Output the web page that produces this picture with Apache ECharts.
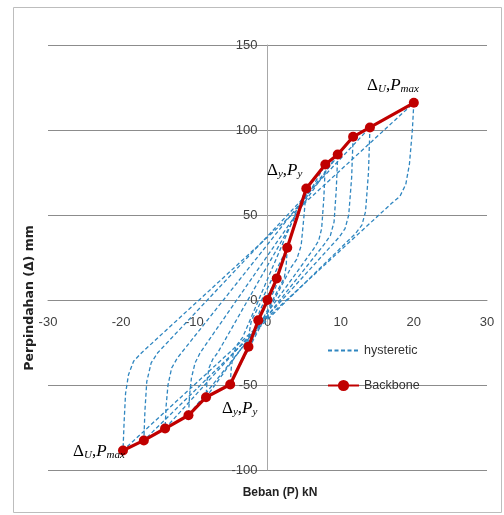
<!DOCTYPE html>
<html><head><meta charset="utf-8">
<script src="https://cdn.jsdelivr.net/npm/echarts@6/dist/echarts.min.js"></script>
<style>html,body{margin:0;padding:0;background:#fff}#c{width:504px;height:515px}</style>
</head><body><div id="c"></div>
<script>
// Axis ranges / ticks
const xRange = [-30, 30, 10];
const yRange = [-100, 150, 50];

// Backbone curve (Beban P kN, Perpindahan mm)
const backbone = [
  [-19.75,-88.5],[-16.9,-82.6],[-14,-75.6],[-10.8,-67.8],[-8.4,-57.2],[-5.1,-49.7],
  [-2.6,-27.5],[-1.26,-11.9],[0,0],[1.26,12.6],[2.7,30.7],[5.3,65.6],[7.9,79.7],
  [9.6,85.6],[11.7,96],[14,101.5],[20,116]
];

// Hysteretic loops
const hyst1 = [[1.26,12.6],[1.15,8],[0.8,4.5],[-1.26,-11.9],[-1.15,-7.5],[-0.8,-4],[1.26,12.6]];
const hyst2 = [[2.7,30.7],[2.55,20],[2.3,13],[1.8,9],[-2.6,-27.5],[-2.45,-18],[-2.2,-12],[-1.7,-8],[2.7,30.7]];
const hyst3 = [[5.3,65.6],[5.0,50],[4.6,32],[4.0,24],[3.2,19],[-5.1,-49.7],[-4.95,-40],[-4.7,-32],[-4.1,-26],[-3.4,-22],[5.3,65.6]];
const hyst4 = [[7.9,79.7],[7.7,60],[7.4,42],[7.0,35],[6.3,30],[-8.4,-57.2],[-8.25,-47],[-8.0,-40],[-7.5,-35],[-6.8,-31],[7.9,79.7]];
const hyst5 = [[9.6,85.6],[9.4,65],[9.1,46],[8.6,38],[7.8,33],[-10.8,-67.8],[-10.65,-56],[-10.4,-46],[-9.9,-37],[-9.2,-31],[9.6,85.6]];
const hyst6 = [[11.7,96],[11.5,72],[11.1,50],[10.6,42],[9.8,37],[-14,-75.6],[-13.85,-62],[-13.6,-50],[-13.1,-40],[-12.3,-34],[11.7,96]];
const hyst7 = [[14,101.5],[13.8,75],[13.4,52],[12.9,44],[12.0,39],[-16.9,-82.6],[-16.75,-65],[-16.5,-48],[-15.9,-37],[-15,-31],[14,101.5]];
const hyst8 = [[20,116],[19.8,100],[19.4,80],[18.9,68],[18.1,61],[17,57],[-19.75,-88.5],[-19.6,-72],[-19.4,-55],[-19.0,-44],[-18.3,-36],[-17.2,-31],[20,116]];
const hystLoops = [hyst1,hyst2,hyst3,hyst4,hyst5,hyst6,hyst7,hyst8];

const seriesNames = ['hysteretic','Backbone'];
const xTitle = 'Beban (P) kN';
const yTitle = 'Perpindahan (Δ) mm';

const FONT = "'Liberation Sans Narrow','Liberation Sans',sans-serif";
const blue = '#2f86c0';
const red = '#c00000';
const G = {left: 48, right: 17, top: 45, bottom: 45, W: 504, H: 515};

const chart = echarts.init(document.getElementById('c'));
const series = hystLoops.map(d => ({
  name: seriesNames[0], type: 'line', data: d, symbol: 'none', silent: true,
  lineStyle: {color: blue, width: 1.3, type: [4, 2.5]}, itemStyle: {color: blue}, z: 2
}));
series.push({
  name: seriesNames[1], type: 'line', data: backbone, symbol: 'circle', symbolSize: 10,
  lineStyle: {color: red, width: 3.2}, itemStyle: {color: red}, z: 5
});

const mathRich = {
  d: {fontSize: 17, fontFamily: 'Liberation Serif', color: '#111', lineHeight: 16, verticalAlign: 'top'},
  m: {fontSize: 17, fontFamily: 'Liberation Serif', fontStyle: 'italic', color: '#111', lineHeight: 16, verticalAlign: 'top'},
  c: {fontSize: 17, fontFamily: 'Liberation Serif', color: '#111', lineHeight: 18, verticalAlign: 'top'},
  s: {fontSize: 11, fontFamily: 'Liberation Serif', fontStyle: 'italic', color: '#111', lineHeight: 10, verticalAlign: 'bottom'}
};
const labU = '{d|Δ}{s|U}{c|,}{m|P}{s|max}';
const labY = '{d|Δ}{s|y}{c|,}{m|P}{s|y}';
function ann(text, x, y) {
  return {type: 'text', left: x, top: y, z: 20, style: {text: text, rich: mathRich}};
}

chart.setOption({
  animation: false,
  grid: {left: G.left, right: G.right, top: G.top, bottom: G.bottom},
  legend: {
    orient: 'vertical', left: 327, top: 344, padding: 0, itemWidth: 31, itemHeight: 14, itemGap: 22,
    data: [{name: seriesNames[0], itemStyle: {opacity: 0}}, {name: seriesNames[1]}],
    textStyle: {fontFamily: FONT, fontSize: 12.5, color: '#333'}
  },
  xAxis: {
    type: 'value', min: xRange[0], max: xRange[1], interval: xRange[2],
    splitLine: {show: false}, axisTick: {show: false},
    axisLine: {onZero: false, lineStyle: {color: '#8c8c8c'}},
    axisLabel: {fontFamily: FONT, fontSize: 13, color: '#404040', margin: 16}
  },
  yAxis: {
    type: 'value', min: yRange[0], max: yRange[1], interval: yRange[2],
    splitLine: {lineStyle: {color: '#8c8c8c'}}, axisTick: {show: false},
    axisLine: {show: true, onZero: false, lineStyle: {color: '#a8a8a8'}},
    axisLabel: {fontFamily: FONT, fontSize: 13, color: '#404040', margin: 10}
  },
  graphic: [
    {type: 'rect', shape: {x: 13.5, y: 7.5, width: 488, height: 505}, style: {fill: 'none', stroke: '#bdbdbd', lineWidth: 1}, z: -1, silent: true},
    {type: 'text', x: 30, y: 298, rotation: Math.PI / 2, z: 10,
      style: {text: yTitle, fontFamily: "'DejaVu Sans',sans-serif", fontWeight: 'bold', fontSize: 12.5, fill: '#222', align: 'center', verticalAlign: 'middle'}},
    {type: 'text', x: 280, y: 493, z: 10,
      style: {text: xTitle, fontFamily: FONT, fontWeight: 'bold', fontSize: 12, fill: '#222', align: 'center', verticalAlign: 'middle'}},
    ann(labU, 367, 77),
    ann(labY, 267, 162),
    ann(labY, 222, 400),
    ann(labU, 73, 443)
  ],
  series: series
});

// Move both axes (line + labels) to cross at the origin
const p0 = chart.convertToPixel({gridIndex: 0}, [0, 0]);
chart.setOption({
  xAxis: {offset: -((G.H - G.bottom) - p0[1])},
  yAxis: {offset: -(p0[0] - G.left)}
});
</script></body></html>
